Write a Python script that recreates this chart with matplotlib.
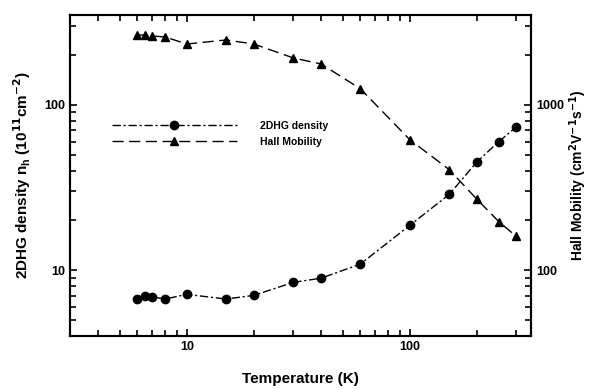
import numpy as np
import matplotlib
matplotlib.use("Agg")
import matplotlib.pyplot as plt
from matplotlib.ticker import LogLocator, NullFormatter, FixedLocator, FixedFormatter

plt.rcParams['font.family'] = ['Liberation Sans', 'DejaVu Sans']
plt.rcParams['font.weight'] = 'bold'

# ~~~~~~~~~~~~~~~~~~~~ data ~~~~~~~~~~~~~~~~~~~~
temp = [6, 6.5, 7, 8, 10, 15, 20, 30, 40, 60, 100, 150, 200, 250, 300]
density = [6.7, 6.95, 6.9, 6.7, 7.15, 6.7, 7.05, 8.45, 8.95, 10.9, 18.7, 28.7, 45.3, 59.8, 73.6]
mobility = [2640, 2640, 2605, 2570, 2330, 2465, 2330, 1920, 1766, 1250, 615, 406, 268, 197, 160]

fig = plt.figure(figsize=(5.89, 3.89), dpi=100)
ax = fig.add_axes([0.119, 0.136, 0.783, 0.826])
ax2 = ax.twinx()

l1, = ax.plot(temp, density, color='black', lw=1.0, marker='o', ms=6,
              dashes=[6, 2, 1.5, 2], label='2DHG density')
l2, = ax2.plot(temp, mobility, color='black', lw=1.0, marker='^', ms=6,
               dashes=[8, 4], label='Hall Mobility')

ax.set_xscale('log')
ax.set_yscale('log')
ax2.set_yscale('log')
ax.set_xlim(3, 350)
ax.set_ylim(4, 350)
ax2.set_ylim(40, 3500)

for a in (ax, ax2):
    a.tick_params(which='both', direction='in', labelsize=9, width=1.2)
    a.tick_params(which='major', length=5)
    a.tick_params(which='minor', length=4)
    for s in a.spines.values():
        s.set_linewidth(1.5)
ax.tick_params(axis='x', which='both', top=True)
ax.tick_params(axis='y', which='both', right=False)
ax2.tick_params(axis='y', which='both', left=False)

ax.xaxis.set_major_locator(FixedLocator([10, 100]))
ax.xaxis.set_major_formatter(FixedFormatter(['10', '100']))
ax.xaxis.set_minor_locator(LogLocator(base=10, subs=np.arange(2, 10)))
ax.xaxis.set_minor_formatter(NullFormatter())
ax.yaxis.set_major_locator(FixedLocator([10, 100]))
ax.yaxis.set_major_formatter(FixedFormatter(['10', '100']))
ax.yaxis.set_minor_locator(LogLocator(base=10, subs=np.arange(2, 10)))
ax.yaxis.set_minor_formatter(NullFormatter())
ax2.yaxis.set_major_locator(FixedLocator([100, 1000]))
ax2.yaxis.set_major_formatter(FixedFormatter(['100', '1000']))
ax2.yaxis.set_minor_locator(LogLocator(base=10, subs=np.arange(2, 10)))
ax2.yaxis.set_minor_formatter(NullFormatter())

ax.set_xlabel('Temperature (K)', fontsize=11, fontweight='bold', labelpad=14)
ax.set_ylabel('2DHG density n$_\\mathregular{h}$ (10$^{\\mathbf{11}}$cm$^{\\mathbf{-2}}$)',
              fontsize=11, fontweight='bold', labelpad=8)
ax2.set_ylabel('Hall Mobility (cm$^{\\mathbf{2}}$V$^{\\mathbf{-1}}$s$^{\\mathbf{-1}}$)',
               fontsize=10, fontweight='bold', labelpad=2)

leg = ax2.legend(handles=[l1, l2], loc='upper left', bbox_to_anchor=(0.07, 0.70),
                 frameon=False, fontsize=7.5, handlelength=12, numpoints=1,
                 handletextpad=2.2, labelspacing=0.6)
for t in leg.get_texts():
    t.set_fontweight('bold')

fig.savefig('out.png', dpi=100)
